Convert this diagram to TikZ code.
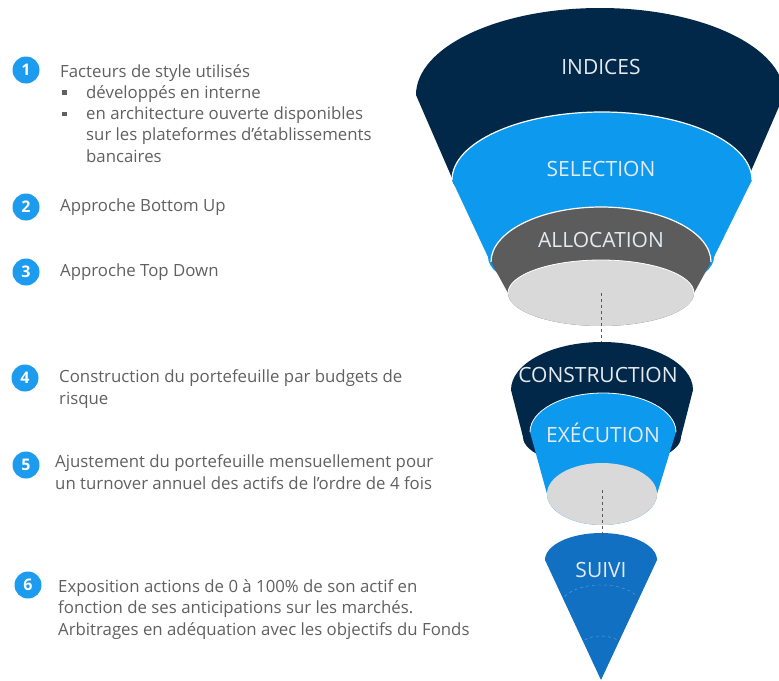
\documentclass[tikz,border=0pt]{standalone}
\usepackage{fontspec}
\setmainfont{Open Sans}

\definecolor{navy}{RGB}{2,40,73}
\definecolor{skyblue}{RGB}{12,153,238}
\definecolor{slate}{RGB}{92,92,92}
\definecolor{pale}{RGB}{217,217,217}
\definecolor{midblue}{RGB}{18,112,194}
\definecolor{numblue}{RGB}{28,155,239}
\definecolor{txtgray}{RGB}{96,96,96}
\definecolor{lbl}{RGB}{228,234,240}

\newcommand{\sqbullet}{\makebox[26pt][l]{\hspace{2pt}\rule[3.5pt]{4.5pt}{4.5pt}}}

\tikzset{
	num/.style={circle, fill=numblue, inner sep=0pt, minimum size=27pt, text=white, font=\bfseries\fontsize{16}{16}\selectfont},
	item/.style={anchor=base west, align=left, inner sep=0pt, text=txtgray, font=\fontsize{16.8}{21.2}\selectfont},
	stage/.style={anchor=base, inner sep=0pt, text=lbl, font=\fontsize{21}{21}\selectfont},
	rim/.style={draw=white, line width=1.2pt},
	link/.style={draw=black!65, dashed, thin}
}

\begin{document}
\begin{tikzpicture}[x=1pt,y=-1pt]
	\useasboundingbox (0,0) rectangle (779,680);
	
	% upper funnel
	\fill [navy] (416,95) arc [start angle=180, end angle=360, x radius=184, y radius=87] -- (748,178) arc [start angle=0, end angle=180, x radius=148, y radius=40] -- cycle;
	\fill [skyblue] (452,180) arc [start angle=180, end angle=360, x radius=150, y radius=68] -- (714,257) arc [start angle=0, end angle=180, x radius=113, y radius=40] -- cycle;
	\draw [rim] (452,180) arc [start angle=180, end angle=360, x radius=150, y radius=68];
	\fill [slate] (491,262) arc [start angle=180, end angle=360, x radius=110, y radius=55] -- (694,293) arc [start angle=0, end angle=180, x radius=93, y radius=33] -- cycle;
	\draw [rim] (491,262) arc [start angle=180, end angle=360, x radius=110, y radius=55];
	\fill [pale] (601,293) ellipse [x radius=93, y radius=33];
	\draw [rim, line width=0.8pt] (508,293) arc [start angle=180, end angle=360, x radius=93, y radius=33];
	
	% middle funnel
	\fill [navy] (511,390) arc [start angle=180, end angle=360, x radius=91, y radius=48] -- (681,437) arc [start angle=0, end angle=180, x radius=79, y radius=30] -- cycle;
	\fill [skyblue] (530,432) arc [start angle=180, end angle=360, x radius=73, y radius=39] -- (657,494) arc [start angle=0, end angle=180, x radius=55, y radius=31] -- cycle;
	\draw [rim, line width=0.8pt] (530,432) arc [start angle=180, end angle=360, x radius=73, y radius=39];
	\fill [pale] (602,494) ellipse [x radius=55, y radius=31];
	
	% lower cone
	\fill [midblue] (545,560) arc [start angle=180, end angle=360, x radius=56, y radius=27] -- (601,680) -- cycle;
	\draw [white, opacity=0.35, dashed, thin] (564.7,596.5) arc [start angle=205, end angle=335, x radius=40, y radius=20];
	\draw [white, opacity=0.35, dashed, thin] (580.3,643.9) arc [start angle=200, end angle=340, x radius=22, y radius=12];
	
	% stages
	\node [stage] (indices) at (601,74) {INDICES};
	\node [stage] (selection) at (601,176) {SELECTION};
	\node [stage] (allocation) at (601,247) {ALLOCATION};
	\node [stage] (construction) at (598,382) {CONSTRUCTION};
	\node [stage] (execution) at (603,442) {EXÉCUTION};
	\node [stage] (suivi) at (601,577) {SUIVI};
	
	% dashed links
	\coordinate (allocbase) at (601,293);
	\coordinate (constop) at (601,342);
	\coordinate (execbase) at (602,490);
	\coordinate (suivitop) at (602,537);
	\draw [link] (allocbase) -- (constop);
	\draw [link] (execbase) -- (suivitop);
	
	% numbered items (base = last line)
	\node [num] (n1) at (26,70) {1};
	\node [num] (n2) at (26,207) {2};
	\node [num] (n3) at (26,272) {3};
	\node [num] (n4) at (25,378) {4};
	\node [num] (n5) at (26,465) {5};
	\node [num] (n6) at (28,585) {6};
	
	\node [item] (t1) at (60,162) {Facteurs de style utilisés\\
		\sqbullet développés en interne\\
		\sqbullet en architecture ouverte disponibles\\
		\hspace*{26pt}sur les plateformes d’établissements\\
		\hspace*{26pt}bancaires};
	\node [item] (t2) at (60,211) {Approche Bottom Up};
	\node [item] (t3) at (60,276) {Approche Top Down};
	\node [item] (t4) at (59,404) {Construction du portefeuille par budgets de\\risque};
	\node [item] (t5) at (55,489) {Ajustement du portefeuille mensuellement pour\\un turnover annuel des actifs de l’ordre de 4 fois};
	\node [item] (t6) at (58,635) {Exposition actions de 0 à 100\% de son actif en\\fonction de ses anticipations sur les marchés.\\Arbitrages en adéquation avec les objectifs du Fonds};
	
\end{tikzpicture}
\end{document}
